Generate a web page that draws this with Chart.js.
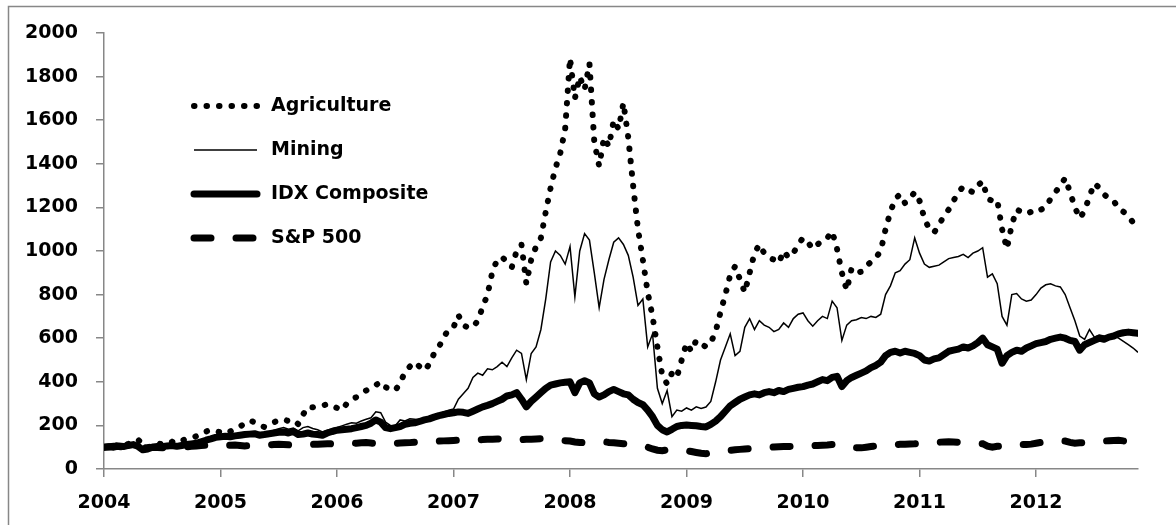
<!DOCTYPE html>
<html>
<head>
<meta charset="utf-8">
<script src="https://cdn.jsdelivr.net/npm/chart.js@4.4.1/dist/chart.umd.min.js"></script>
<style>
  html, body { margin: 0; padding: 0; background: #fff; }
  canvas { display: block; }
</style>
</head>
<body>
<canvas id="chart" width="1176" height="525"></canvas>
<script>
// half-monthly values, Jan 2004 .. mid Nov 2012 (index 2004=100)
const startYear = 2004;
const stepsPerYear = 24;
const yearTicks = [2004, 2005, 2006, 2007, 2008, 2009, 2010, 2011, 2012];

const agriculture = [
  100, 108, 104, 112, 106, 115, 128, 135, 112, 98, 110, 120, 112, 118, 125, 118, 130, 138, 142, 150, 165, 172, 179, 175,
  168, 162, 172, 185, 195, 208, 222, 215, 200, 193, 205, 215, 222, 228, 220, 225, 206, 250, 285, 283, 287, 290, 298, 290,
  280, 270, 300, 318, 330, 345, 360, 372, 385, 400, 375, 368, 360, 395, 445, 470, 490, 470, 452, 480, 530, 560, 606, 640,
  650, 706, 660, 648, 651, 680, 743, 800, 905, 960, 972, 950, 925, 1000, 1030, 850, 960, 1020, 1060, 1180, 1290, 1380, 1450, 1560,
  1885, 1700, 1800, 1740, 1860, 1500, 1390, 1520, 1480, 1600, 1560, 1680, 1520, 1300, 1100, 960, 810, 700, 560, 430, 390, 440, 420, 500,
  578, 540, 590, 575, 560, 580, 630, 720, 800, 890, 930, 870, 810, 900, 990, 1030, 990, 970, 960, 945, 1000, 970, 990, 1030,
  1060, 1040, 1010, 1030, 1050, 1060, 1090, 1010, 900, 820, 920, 900, 905, 930, 950, 970, 1000, 1100, 1180, 1240, 1260, 1220, 1240, 1270,
  1230, 1150, 1100, 1085, 1120, 1160, 1190, 1230, 1270, 1295, 1280, 1270, 1300, 1320, 1240, 1230, 1235, 1100, 1010, 1120, 1190, 1180, 1170, 1180,
  1175, 1190, 1200, 1240, 1270, 1300, 1335, 1270, 1200, 1150, 1185, 1250, 1310, 1290, 1260, 1240, 1230, 1195, 1180, 1160, 1130, 1095
];

const mining = [
  100, 104, 102, 108, 103, 110, 118, 112, 92, 88, 98, 105, 102, 108, 112, 106, 110, 115, 118, 122, 128, 135, 142, 148,
  150, 152, 148, 155, 158, 165, 162, 168, 160, 165, 170, 178, 185, 190, 182, 188, 175, 190, 195, 186, 180, 170, 178, 185,
  190, 198, 205, 212, 210, 220, 228, 235, 262, 258, 215, 200, 198, 225, 220, 230, 228, 225, 232, 240, 245, 252, 262, 270,
  275, 320, 345, 370, 420, 440, 430, 460, 455, 470, 490, 470, 510, 545, 530, 410, 530, 560, 640, 780, 950, 1000, 980, 940,
  1020, 790, 1000, 1080, 1050, 900, 740, 870, 960, 1040, 1060, 1030, 980, 880, 750, 780, 560, 620, 370, 300, 360, 240, 270, 265,
  280, 270, 285, 278, 284, 310, 400, 500, 560, 620, 520, 540, 650, 690, 640, 680, 660, 650, 630, 640, 670, 650, 690, 710,
  716, 680, 655, 680, 700, 690, 770, 740, 590, 660, 680, 685, 695, 690, 700, 695, 710, 800, 840, 900, 910, 940, 960, 1060,
  990, 940, 925, 930, 935, 950, 965, 970, 975, 985, 970, 990, 1000, 1015, 880, 895, 850, 700, 660, 800, 805, 780, 770, 775,
  800, 830, 845, 850, 840, 835, 800, 740, 680, 610, 595, 640, 605, 615, 610, 608, 612, 600, 585, 570, 555, 535
];

const idxComposite = [
  100, 102, 100, 105, 103, 108, 112, 104, 88, 92, 100, 104, 102, 106, 108, 104, 108, 112, 115, 118, 125, 132, 138, 145,
  148, 150, 148, 152, 155, 158, 160, 162, 155, 158, 162, 165, 168, 170, 165, 172, 158, 160, 165, 160, 158, 155, 165, 172,
  178, 180, 182, 185, 190, 195, 200, 210, 225, 215, 190, 185, 190, 195, 205, 210, 212, 218, 225, 230, 238, 245, 250, 255,
  258, 262, 260, 255, 265, 275, 285, 292, 300, 310, 320, 335, 340, 350, 320, 285, 310, 330, 350, 370, 385, 390, 395, 398,
  400, 350, 395, 405, 395, 345, 330, 340, 355, 365, 355, 345, 340, 320, 305, 295, 270, 240, 200, 180, 170, 182, 195, 200,
  202, 200, 198, 195, 193, 205, 220, 240, 265, 290, 305, 320, 330, 340, 345, 340, 350, 355, 350, 360, 355, 365, 370, 375,
  378, 385, 390, 400, 410, 405, 420, 425, 378, 405, 420, 430, 440, 450, 465, 475, 490, 520, 535, 540, 532, 540, 535, 530,
  520, 500, 495, 505, 510, 525, 540, 545, 550, 560, 555, 565, 580, 600, 570, 560, 550, 485, 520, 535, 545, 540, 555, 565,
  575, 580, 585, 595, 600, 605, 600, 590, 585, 545, 570, 580, 590, 600, 595, 605, 610, 620, 625, 628, 625, 622
];

const sp500 = [
  100, 102, 104, 103, 101, 100, 98, 97, 96, 98, 100, 99, 98, 97, 96, 98, 100, 102, 104, 106, 108, 109, 110, 110,
  108, 107, 109, 110, 108, 106, 107, 108, 109, 110, 111, 112, 113, 112, 111, 110, 109, 110, 112, 113, 114, 115, 116, 115,
  116, 117, 118, 119, 118, 120, 121, 119, 116, 115, 116, 117, 118, 119, 120, 121, 123, 124, 125, 126, 127, 128, 129, 130,
  131, 132, 131, 130, 133, 134, 135, 136, 137, 138, 137, 136, 134, 132, 135, 136, 137, 138, 139, 137, 135, 133, 131, 130,
  128, 124, 122, 121, 123, 125, 126, 125, 122, 120, 118, 116, 114, 112, 110, 108, 100, 92, 86, 84, 88, 86, 84, 86,
  84, 80, 76, 72, 70, 74, 79, 82, 84, 86, 88, 90, 92, 94, 96, 98, 99, 100, 101, 102, 103, 103, 104, 104,
  105, 106, 107, 108, 109, 110, 112, 108, 100, 98, 96, 98, 97, 100, 103, 106, 108, 110, 111, 112, 113, 114, 115, 116,
  118, 120, 122, 124, 123, 124, 125, 124, 123, 122, 121, 120, 118, 116, 105, 100, 104, 106, 103, 108, 110, 112, 112, 114,
  118, 122, 125, 127, 128, 129, 128, 122, 118, 120, 122, 124, 125, 127, 128, 130, 131, 132, 129, 128, 127, 128
];

const toPoints = vals => vals.map((v, i) => ({ x: startYear + i / stepsPerYear, y: v }));
const lastX = startYear + (agriculture.length - 1) / stepsPerYear;

const axisGray = "#878787";
const tickFont = { family: "DejaVu Sans", size: 19, weight: "bold" };

// outer frame (only left and top edges show in the picture)
const framePlugin = {
  id: "frame",
  beforeDraw(chart) {
    const ctx = chart.ctx;
    ctx.save();
    ctx.strokeStyle = axisGray;
    ctx.lineWidth = 1.5;
    ctx.beginPath();
    ctx.moveTo(8.5, chart.height);
    ctx.lineTo(8.5, 6.5);
    ctx.lineTo(chart.width, 6.5);
    ctx.stroke();
    ctx.restore();
  }
};

// legend with line samples drawn from each dataset's own style
const legendPlugin = {
  id: "lineLegend",
  afterDraw(chart) {
    const ctx = chart.ctx;
    chart.data.datasets.forEach((ds, i) => {
      const y = 106 + i * 44;
      ctx.save();
      ctx.strokeStyle = ds.borderColor;
      ctx.lineWidth = ds.borderWidth;
      ctx.lineCap = ds.borderCapStyle || "butt";
      ctx.setLineDash(ds.borderDash || []);
      ctx.beginPath();
      ctx.moveTo(194, y);
      ctx.lineTo(257, y);
      ctx.stroke();
      ctx.setLineDash([]);
      ctx.fillStyle = "#000";
      ctx.font = "bold 19px 'DejaVu Sans'";
      ctx.textBaseline = "middle";
      ctx.fillText(ds.label, 271, y);
      ctx.restore();
    });
  }
};

new Chart(document.getElementById("chart"), {
  type: "line",
  data: {
    datasets: [
      { label: "Agriculture", data: toPoints(agriculture), borderColor: "#000", borderWidth: 6,
        borderDash: [0.5, 12], borderCapStyle: "round", pointRadius: 0, fill: false },
      { label: "Mining", data: toPoints(mining), borderColor: "#000", borderWidth: 1.5,
        pointRadius: 0, fill: false },
      { label: "IDX Composite", data: toPoints(idxComposite), borderColor: "#000", borderWidth: 7,
        borderJoinStyle: "round", borderCapStyle: "round", pointRadius: 0, fill: false },
      { label: "S&P 500", data: toPoints(sp500), borderColor: "#000", borderWidth: 7,
        borderDash: [17, 25], borderCapStyle: "round", pointRadius: 0, fill: false }
    ]
  },
  options: {
    responsive: false,
    animation: false,
    devicePixelRatio: 1,
    layout: { padding: { left: 0, top: 33, right: 38, bottom: 0 } },
    plugins: { legend: { display: false }, tooltip: { enabled: false } },
    scales: {
      x: {
        type: "linear",
        min: startYear,
        max: lastX,
        afterFit: s => { s.height = 56; },
        afterBuildTicks: s => { s.ticks = yearTicks.map(v => ({ value: v })); },
        grid: { drawOnChartArea: false, drawTicks: true, tickLength: 8, color: axisGray, lineWidth: 1.5 },
        border: { color: axisGray, width: 1.5 },
        ticks: { font: tickFont, color: "#000", padding: 15, maxRotation: 0, callback: v => String(v) }
      },
      y: {
        min: 0,
        max: 2000,
        afterFit: s => { s.width = 104; },
        grid: { drawOnChartArea: false, drawTicks: true, tickLength: 8, color: axisGray, lineWidth: 1.5 },
        border: { color: axisGray, width: 1.5 },
        ticks: { stepSize: 200, font: tickFont, color: "#000", padding: 18, callback: v => String(v) }
      }
    }
  },
  plugins: [framePlugin, legendPlugin]
});
</script>
</body>
</html>
